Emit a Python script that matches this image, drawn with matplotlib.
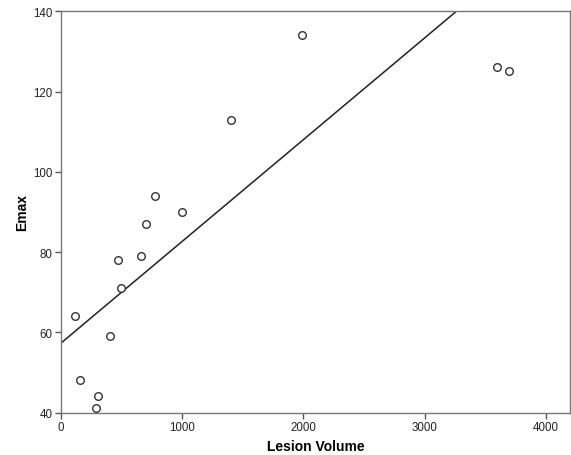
import numpy as np
import matplotlib
matplotlib.use("Agg")
import matplotlib.pyplot as plt

plt.rcParams['font.family'] = ['Liberation Sans', 'DejaVu Sans']

lesion_volume = [113, 157, 305, 286, 401, 467, 495, 657, 701, 775, 998, 1401, 1987, 3594, 3699]
emax = [64, 48, 44, 41, 59, 78, 71, 79, 87, 94, 90, 113, 134, 126, 125]
fit_intercept = 57.3
fit_slope = 0.02535
xticks = [0, 1000, 2000, 3000, 4000]
yticks = [40, 60, 80, 100, 120, 140]

fig = plt.figure(figsize=(5.71, 4.56), dpi=100)
ax = fig.add_axes([0.1068, 0.0932, 0.8914, 0.8798])

x = np.array(lesion_volume, dtype=float)
y = np.array(emax, dtype=float)
xl = np.array([0, 4200])
ax.plot(xl, fit_intercept + fit_slope * xl, color='#222222', lw=1.1, zorder=2)

ax.scatter(x, y, s=30, facecolors='white', edgecolors='#333333', linewidths=1.0, zorder=3)

ax.set_xlim(0, 4200)
ax.set_ylim(40, 140)
ax.set_xticks(xticks)
ax.set_yticks(yticks)
for s in ax.spines.values():
    s.set_color('#777777')
    s.set_linewidth(1.0)
ax.tick_params(direction='out', length=4, width=1, color='#555555', labelsize=8.3, labelcolor='#222222', pad=2)
ax.set_xlabel('Lesion Volume', fontsize=10, fontweight='bold', labelpad=4.5)
ax.set_ylabel('Emax', fontsize=10, fontweight='bold', labelpad=3)

fig.savefig('out.png', dpi=100)
